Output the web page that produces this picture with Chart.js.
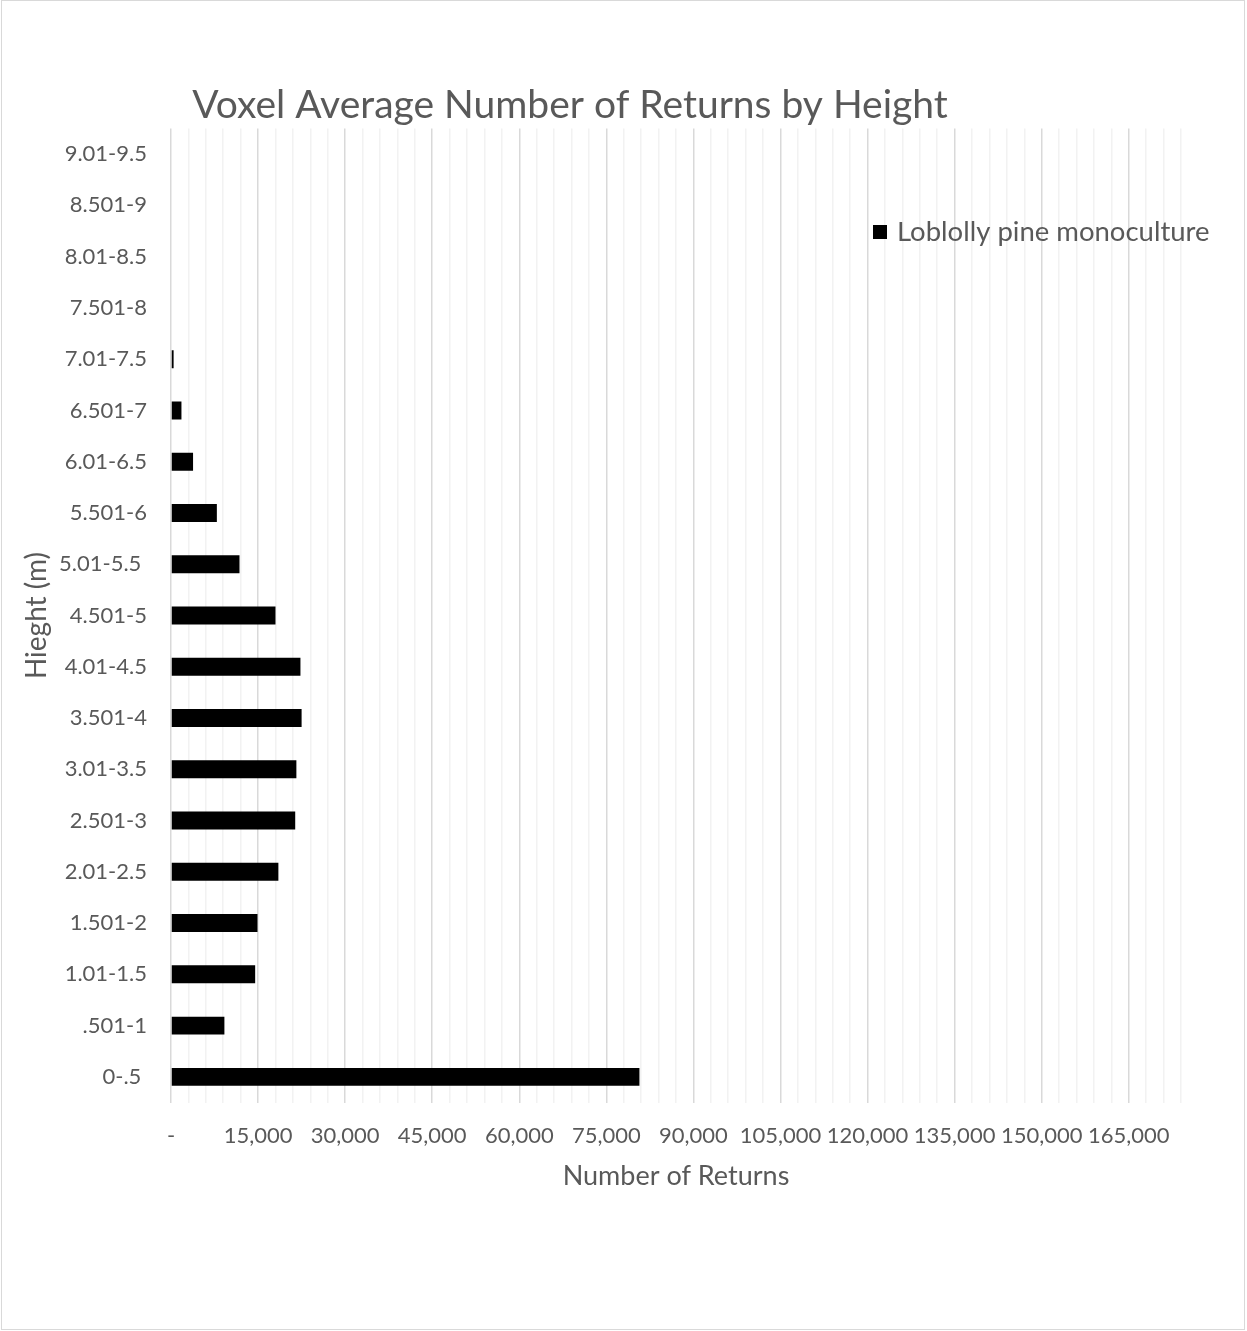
<!DOCTYPE html>
<html>
<head>
<meta charset="utf-8">
<title>Voxel Average Number of Returns by Height</title>
<script src="https://cdn.jsdelivr.net/npm/chart.js@4/dist/chart.umd.min.js"></script>
<style>
  html, body { margin: 0; padding: 0; background: #fff; }
  canvas { display: block; }
</style>
</head>
<body>
<canvas id="chart" width="1247" height="1331"></canvas>
<script>
// height bins, bottom (ground) to top
var heightBins = ["0-.5 ", ".501-1", "1.01-1.5", "1.501-2", "2.01-2.5", "2.501-3",
	"3.01-3.5", "3.501-4", "4.01-4.5", "4.501-5", "5.01-5.5 ", "5.501-6",
	"6.01-6.5", "6.501-7", "7.01-7.5", "7.501-8", "8.01-8.5", "8.501-9", "9.01-9.5"];

// average number of returns per bin
var loblollyReturns = [80700, 9200, 14500, 14900, 18500, 21400,
	21600, 22500, 22300, 18000, 11800, 7900,
	3800, 1800, 450, 0, 0, 0, 0];

// labelled x ticks, one per 15,000
var returnTickLabels = ["-", "15,000", "30,000", "45,000", "60,000", "75,000", "90,000",
	"105,000", "120,000", "135,000", "150,000", "165,000"];

var seriesName = "Loblolly pine monoculture";
var chartTitle = "Voxel Average Number of Returns by Height";

var textColor = "#595959";
var fontFamily = "Lato, 'Open Sans', sans-serif";

// title, legend and outer frame are painted by hand
var decorPlugin = {
	id: "decor",
	afterDraw: function(chart) {
		var ctx = chart.ctx;
		ctx.save();

		ctx.strokeStyle = "#d9d9d9";
		ctx.lineWidth = 1;
		ctx.strokeRect(1.5, 0.5, 1243, 1329);

		ctx.fillStyle = textColor;
		ctx.font = "39px " + fontFamily;
		ctx.textAlign = "center";
		ctx.textBaseline = "middle";
		ctx.fillText(chartTitle, 570, 105);

		var ds = chart.data.datasets[0];
		ctx.fillStyle = ds.backgroundColor;
		ctx.fillRect(873, 225, 14, 14);
		ctx.fillStyle = textColor;
		ctx.font = "27.5px " + fontFamily;
		ctx.textAlign = "left";
		ctx.fillText(ds.label, 897, 232);

		ctx.restore();
	}
};

var ctx = document.getElementById("chart");
var myChart = new Chart(ctx, {
	type: "bar",
	data: {
		labels: heightBins,
		datasets: [{
			label: seriesName,
			data: loblollyReturns,
			backgroundColor: "#000000",
			borderWidth: 0,
			barPercentage: 0.35,
			categoryPercentage: 1.0
		}]
	},
	options: {
		indexAxis: "y",
		responsive: false,
		animation: false,
		devicePixelRatio: 1,
		layout: {
			padding: { left: 0, top: 128.5, right: 66, bottom: 0 }
		},
		plugins: {
			legend: { display: false },
			title: { display: false },
			tooltip: { enabled: false }
		},
		scales: {
			x: {
				type: "linear",
				min: 0,
				max: 174000,
				border: { display: false },
				grid: {
					drawTicks: false,
					lineWidth: 1.5,
					color: function(c) {
						return c.tick && c.tick.value % 15000 === 0 ? "#d9d9d9" : "#f2f2f2";
					}
				},
				ticks: {
					stepSize: 3000,
					autoSkip: false,
					maxRotation: 0,
					padding: 20,
					color: textColor,
					font: { family: fontFamily, size: 22 },
					callback: function(value) {
						if (value % 15000 !== 0) return "";
						return returnTickLabels[value / 15000] || "";
					}
				},
				title: {
					display: true,
					text: "Number of Returns",
					color: textColor,
					font: { family: fontFamily, size: 27 },
					padding: { top: 0, bottom: 139 }
				},
				afterFit: function(scale) { scale.height = 228.5; }
			},
			y: {
				reverse: true,
				border: { display: false },
				grid: { display: false, drawTicks: false },
				ticks: {
					padding: 24,
					color: textColor,
					font: { family: fontFamily, size: 22 }
				},
				title: {
					display: true,
					text: "Hieght (m)",
					color: textColor,
					font: { family: fontFamily, size: 28 },
					padding: { top: 20, bottom: 0 }
				},
				afterFit: function(scale) { scale.width = 171; }
			}
		}
	},
	plugins: [decorPlugin]
});
</script>
</body>
</html>
